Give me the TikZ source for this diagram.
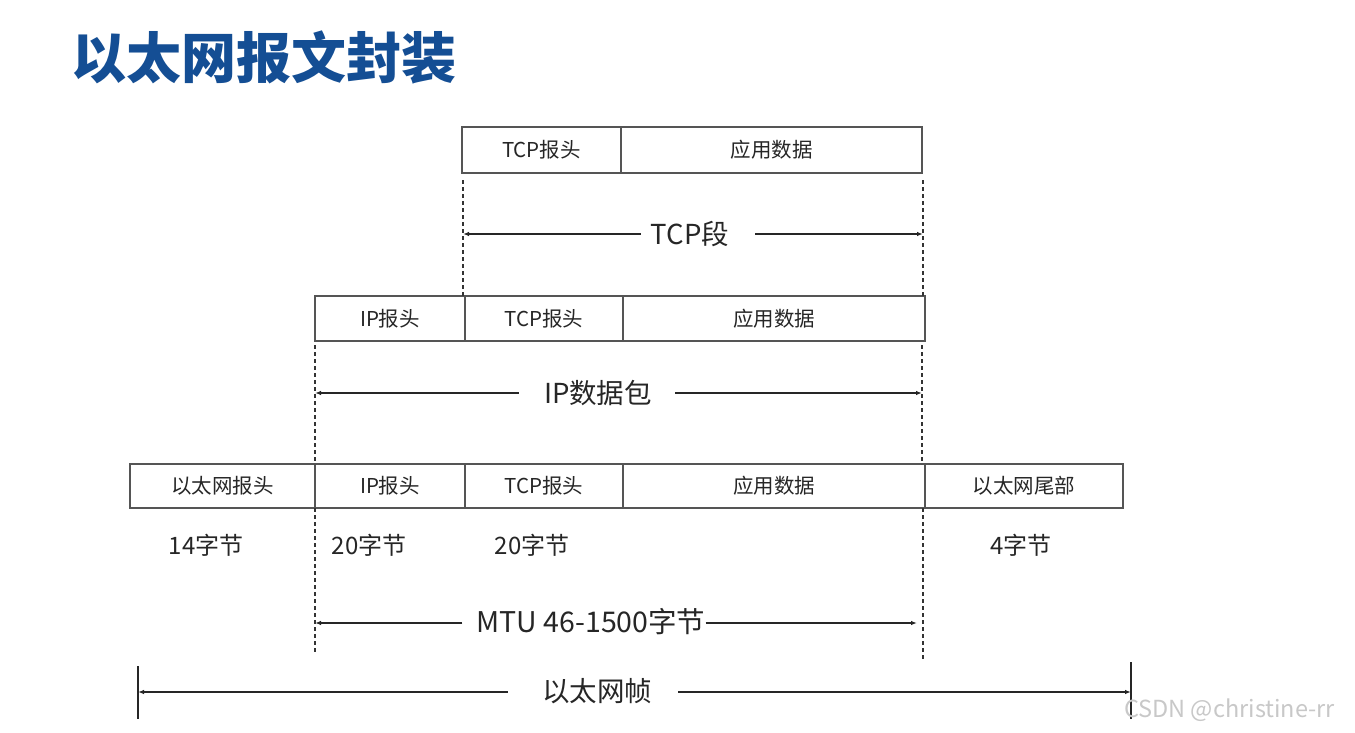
\documentclass[tikz,border=0pt]{standalone}
\usepackage{fontspec}
\setmainfont{Noto Sans CJK SC}
\newfontfamily\cjk{Noto Sans CJK SC}
\usetikzlibrary{arrows.meta}
\definecolor{titleblue}{RGB}{20,78,148}
\definecolor{boxline}{RGB}{85,85,85}
\definecolor{wm}{RGB}{200,200,200}
\tikzset{
  cell/.style={draw=boxline, line width=1.2pt, rectangle, inner sep=0pt, minimum height=46pt, font=\cjk\fontsize{20.5}{24}\selectfont, text=black!85},
  guide/.style={draw=black!80, line width=1.3pt, dash pattern=on 4pt off 3pt},
  dim/.style={draw=black!85, line width=1.5pt, -{Latex[length=6pt,width=4.5pt]}},
  span/.style={font=\cjk\fontsize{27.5}{30}\selectfont, text=black!85, inner sep=0pt},
  bytes/.style={font=\cjk\fontsize{24}{28}\selectfont, text=black!85, inner sep=0pt},
  endbar/.style={draw=black!85, line width=1.5pt}
}
\begin{document}
\begin{tikzpicture}[x=1pt,y=-1pt]
\useasboundingbox (0,0) rectangle (1355,732);
\fill[white] (0,0) rectangle (1355,732);

% title
\node[font=\cjk\bfseries\fontsize{55}{60}\selectfont, text=titleblue, anchor=west, inner sep=0pt] (title) at (71,57) {以太网报文封装};

% row 1: TCP segment
\node[cell, minimum width=159pt] (r1tcp) at (541.5,150) {TCP报头};
\node[cell, minimum width=301pt] (r1app) at (771.5,150) {应用数据};

% row 2: IP packet
\node[cell, minimum width=150pt, minimum height=45pt] (r2ip) at (390,318.5) {IP报头};
\node[cell, minimum width=158pt, minimum height=45pt] (r2tcp) at (544,318.5) {TCP报头};
\node[cell, minimum width=302pt, minimum height=45pt] (r2app) at (774,318.5) {应用数据};

% row 3: Ethernet frame
\node[cell, minimum width=185pt, minimum height=44pt] (r3eh) at (222.5,486) {以太网报头};
\node[cell, minimum width=150pt, minimum height=44pt] (r3ip) at (390,486) {IP报头};
\node[cell, minimum width=158pt, minimum height=44pt] (r3tcp) at (544,486) {TCP报头};
\node[cell, minimum width=302pt, minimum height=44pt] (r3app) at (774,486) {应用数据};
\node[cell, minimum width=198pt, minimum height=44pt] (r3et) at (1024,486) {以太网尾部};

% byte counts
\node[bytes] (b14) at (206,545) {14字节};
\node[bytes] (b20a) at (369,545) {20字节};
\node[bytes] (b20b) at (532,545) {20字节};
\node[bytes] (b4) at (1021,545) {4字节};

% guides row1 -> row2
\coordinate (g1at) at (463,180);
\coordinate (g1ab) at (463,296);
\coordinate (g1bt) at (923,180);
\coordinate (g1bb) at (923,296);
\draw[guide] (g1at) -- (g1ab);
\draw[guide] (g1bt) -- (g1bb);
\node[span] (tcpseg) at (690,234) {TCP段};
\coordinate (a1l) at (463,234);
\coordinate (a1r) at (923,234);
\draw[dim] ([xshift=-10pt]tcpseg.west) -- (a1l);
\draw[dim] ([xshift=26pt]tcpseg.east) -- (a1r);

% guides row2 -> row3
\coordinate (g2at) at (315,345);
\coordinate (g2ab) at (315,464);
\coordinate (g2bt) at (922,345);
\coordinate (g2bb) at (922,464);
\draw[guide] (g2at) -- (g2ab);
\draw[guide] (g2bt) -- (g2bb);
\node[span] (ippkt) at (598,393) {IP数据包};
\coordinate (a2l) at (315,393);
\coordinate (a2r) at (922,393);
\draw[dim] ([xshift=-25pt]ippkt.west) -- (a2l);
\draw[dim] ([xshift=23pt]ippkt.east) -- (a2r);

% MTU
\coordinate (g3at) at (315,508);
\coordinate (g3ab) at (315,652);
\coordinate (g3bt) at (923,508);
\coordinate (g3bb) at (923,660);
\draw[guide] (g3at) -- (g3ab);
\draw[guide] (g3bt) -- (g3bb);
\node[span, font=\cjk\fontsize{28.5}{30}\selectfont] (mtu) at (591,622) {MTU 46-1500字节};
\coordinate (a3l) at (315,623);
\coordinate (a3r) at (917,623);
\draw[dim] ([xshift=-14pt]mtu.west |- a3l) -- (a3l);
\draw[dim] (mtu.east |- a3r) -- (a3r);

% Ethernet frame
\coordinate (e1t) at (138,666);
\coordinate (e1b) at (138,719);
\coordinate (e2t) at (1131,662);
\coordinate (e2b) at (1131,719);
\draw[endbar] (e1t) -- (e1b);
\draw[endbar] (e2t) -- (e2b);
\node[span] (frame) at (597,691) {以太网帧};
\coordinate (a4l) at (138,692);
\coordinate (a4r) at (1131,692);
\draw[dim] ([xshift=-34pt]frame.west |- a4l) -- (a4l);
\draw[dim] ([xshift=26pt]frame.east |- a4r) -- (a4r);

% watermark
\node[font=\fontsize{23.5}{26}\selectfont, text=wm, anchor=west, inner sep=0pt] (wmark) at (1124,710) {CSDN @christine-rr};
\end{tikzpicture}
\end{document}
